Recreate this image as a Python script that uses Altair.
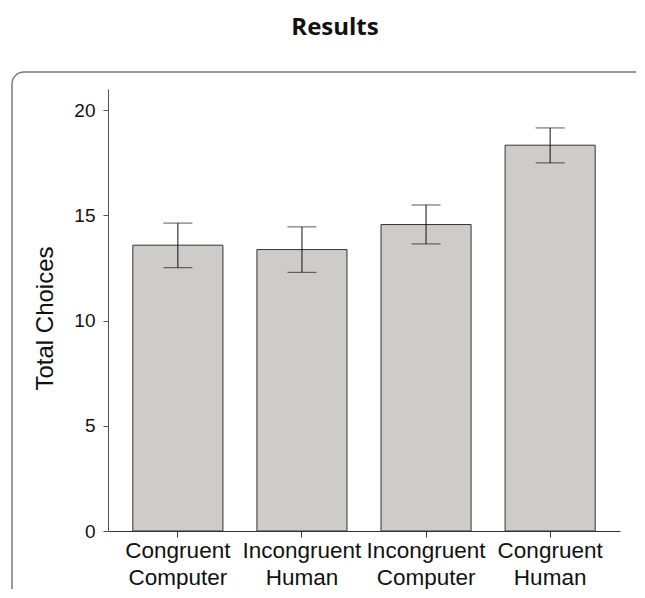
import altair as alt
import pandas as pd

categories = ["Congruent Computer", "Incongruent Human", "Incongruent Computer", "Congruent Human"]
means = [13.58, 13.37, 14.56, 18.33]
lows = [12.51, 12.29, 13.64, 17.49]
highs = [14.63, 14.45, 15.49, 19.15]

df = pd.DataFrame({"cond": categories, "mean": means, "lo": lows, "hi": highs})

xenc = alt.X("cond:N", sort=categories,
             scale=alt.Scale(paddingInner=0.274, paddingOuter=0.2),
             axis=alt.Axis(title=None, labelAngle=0, labelExpr="split(datum.label, ' ')",
                           labelFont="Liberation Sans", labelFontSize=22.5, labelColor="#111",
                           labelLineHeight=27, labelPadding=2, tickSize=6,
                           tickColor="#333", domainColor="#333"))
yscale = alt.Scale(domain=[0, 21], nice=False)

base = alt.Chart(df)

frame = alt.Chart(alt.Data(values=[{"a": 1}])).mark_rect(
    fill=None, stroke="#7a7a7a", strokeWidth=1.5, cornerRadius=12
).encode(x=alt.value(-96), y=alt.value(-17), x2=alt.value(700), y2=alt.value(620))

bars = base.mark_bar(color="#cdcccb", stroke="#333333", strokeWidth=1).encode(
    x=xenc,
    y=alt.Y("mean:Q", scale=yscale,
            axis=alt.Axis(title="Total Choices", values=[0, 5, 10, 15, 20], grid=False,
                          labelFont="Liberation Sans", labelFontSize=19, labelColor="#111",
                          labelPadding=8, tickSize=5, tickColor="#555", domainColor="#555",
                          titleFont="Liberation Sans", titleFontSize=24, titleFontWeight="normal",
                          titleColor="#111", titlePadding=16, titleY=229)),
)

rules = base.mark_rule(color="#111", strokeWidth=1).encode(
    x=alt.X("cond:N", sort=categories), y="lo:Q", y2="hi:Q")
caps_hi = base.mark_tick(color="#111", size=29, thickness=1).encode(
    x=alt.X("cond:N", sort=categories), y="hi:Q")
caps_lo = base.mark_tick(color="#111", size=29, thickness=1).encode(
    x=alt.X("cond:N", sort=categories), y="lo:Q")

chart = alt.layer(frame, bars, rules, caps_hi, caps_lo).properties(
    width=512, height=442,
    title=alt.TitleParams("Results", font="Open Sans", fontSize=24, fontWeight="bold",
                          color="#111", anchor="middle", dx=-29, offset=31),
    autosize=alt.AutoSizeParams(type="none"),
    padding={"left": 100, "top": 81, "right": 16, "bottom": 58},
).configure_view(stroke=None)

chart.save("out.html", embed_options={"renderer": "svg", "actions": False})
